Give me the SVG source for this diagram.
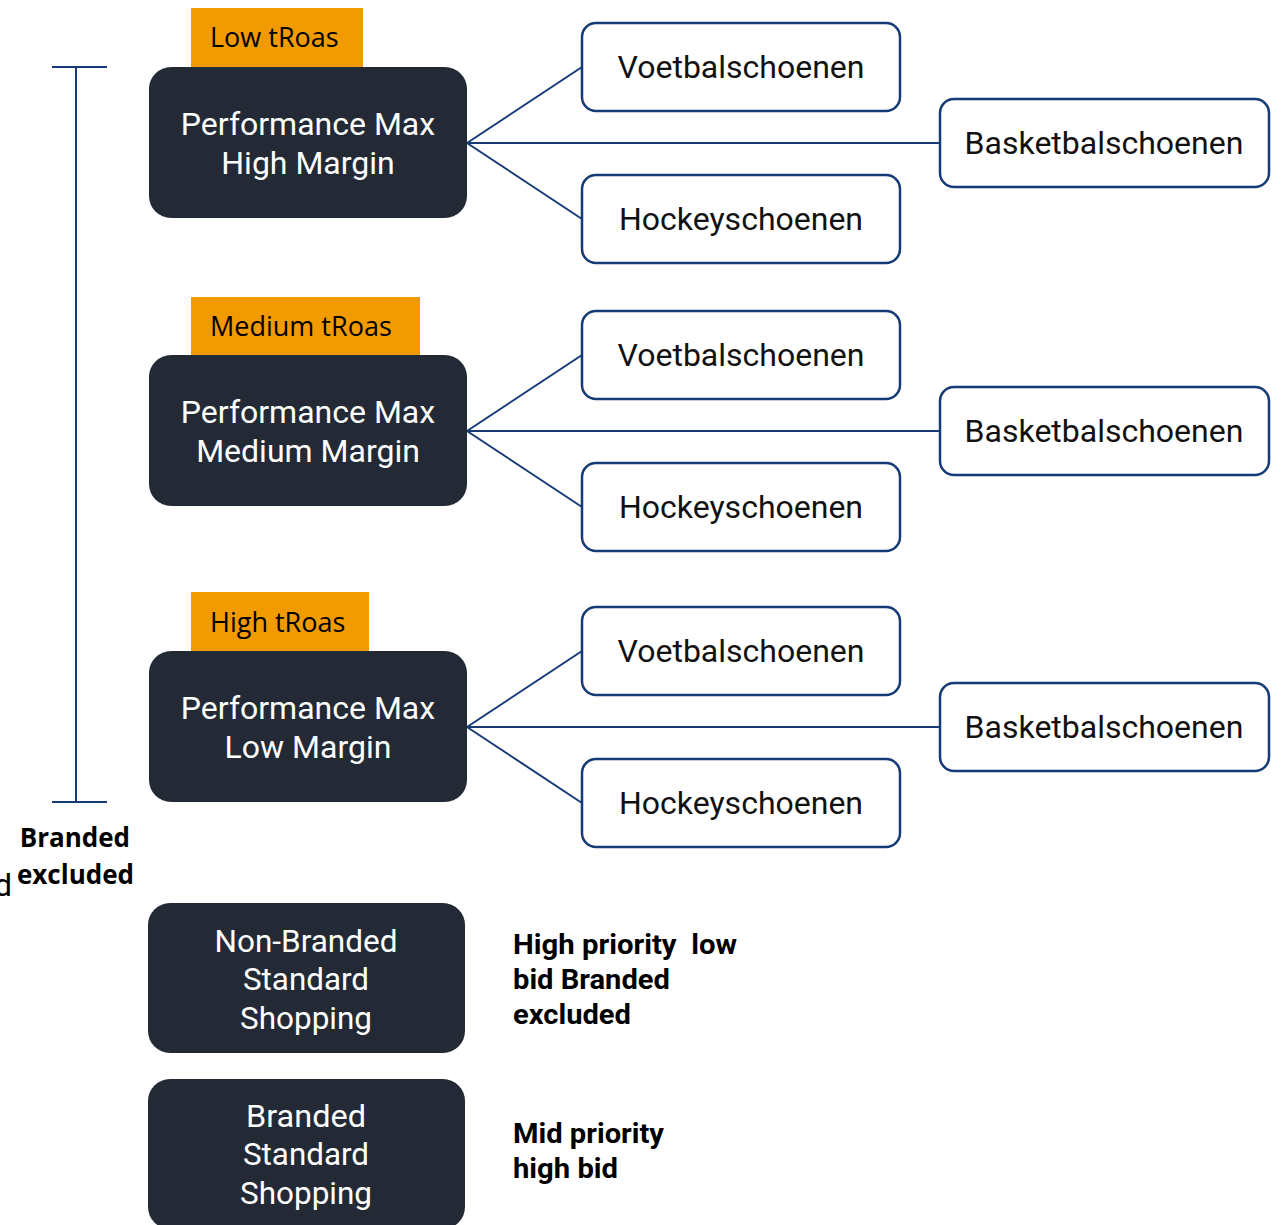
<svg xmlns="http://www.w3.org/2000/svg" width="1281" height="1225" viewBox="0 0 1281 1225">
<style>
.dark{fill:#232a35}
.tag{fill:#f29b00}
.leaf{fill:#fff;stroke:#153a75;stroke-width:2.5}
.wt{font-family:Roboto,"Liberation Sans",sans-serif;font-size:32px;fill:#fff;text-anchor:middle}
.bt{font-family:Roboto,"Liberation Sans",sans-serif;font-size:32px;fill:#111;text-anchor:middle}
.tt{font-family:"Open Sans","Liberation Sans",sans-serif;font-size:27px;fill:#000}
.bold{font-family:"Open Sans","Liberation Sans",sans-serif;font-size:26px;font-weight:bold;fill:#000}
.note{font-family:Roboto,"Liberation Sans",sans-serif;font-size:28px;font-weight:bold;fill:#000}
.conn line{stroke:#153a75;stroke-width:2}
</style>
<rect width="1281" height="1225" fill="#fff"/>
<g class="conn" id="connectors">
<line x1="467" y1="143" x2="582" y2="67"/>
<line x1="467" y1="143" x2="940" y2="143"/>
<line x1="467" y1="143" x2="582" y2="219"/>
<line x1="467" y1="431" x2="582" y2="355"/>
<line x1="467" y1="431" x2="940" y2="431"/>
<line x1="467" y1="431" x2="582" y2="507"/>
<line x1="467" y1="727" x2="582" y2="651"/>
<line x1="467" y1="727" x2="940" y2="727"/>
<line x1="467" y1="727" x2="582" y2="803"/>
<line x1="76" y1="67" x2="76" y2="803"/>
<line x1="52" y1="67" x2="107" y2="67"/>
<line x1="52" y1="802" x2="107" y2="802"/>
</g>
<g id="tag1"><rect class="tag" x="191" y="8" width="172" height="60"/><text class="tt" x="210" y="47">Low tRoas</text></g>
<g id="pm1"><rect class="dark" x="149" y="67" width="318" height="151" rx="22"/><text class="wt" x="308" y="135">Performance Max</text><text class="wt" x="308" y="174">High Margin</text></g>
<g id="v1"><rect class="leaf" x="582" y="23" width="318" height="88" rx="14"/><text class="bt" x="741" y="78">Voetbalschoenen</text></g>
<g id="b1"><rect class="leaf" x="940" y="99" width="329" height="88" rx="14"/><text class="bt" x="1104" y="154">Basketbalschoenen</text></g>
<g id="h1"><rect class="leaf" x="582" y="175" width="318" height="88" rx="14"/><text class="bt" x="741" y="230">Hockeyschoenen</text></g>

<g id="tag2"><rect class="tag" x="191" y="297" width="229" height="59"/><text class="tt" x="210" y="336">Medium tRoas</text></g>
<g id="pm2"><rect class="dark" x="149" y="355" width="318" height="151" rx="22"/><text class="wt" x="308" y="423">Performance Max</text><text class="wt" x="308" y="462">Medium Margin</text></g>
<g id="v2"><rect class="leaf" x="582" y="311" width="318" height="88" rx="14"/><text class="bt" x="741" y="366">Voetbalschoenen</text></g>
<g id="b2"><rect class="leaf" x="940" y="387" width="329" height="88" rx="14"/><text class="bt" x="1104" y="442">Basketbalschoenen</text></g>
<g id="h2"><rect class="leaf" x="582" y="463" width="318" height="88" rx="14"/><text class="bt" x="741" y="518">Hockeyschoenen</text></g>

<g id="tag3"><rect class="tag" x="191" y="592" width="178" height="59"/><text class="tt" x="210" y="632">High tRoas</text></g>
<g id="pm3"><rect class="dark" x="149" y="651" width="318" height="151" rx="22"/><text class="wt" x="308" y="719">Performance Max</text><text class="wt" x="308" y="758">Low Margin</text></g>
<g id="v3"><rect class="leaf" x="582" y="607" width="318" height="88" rx="14"/><text class="bt" x="741" y="662">Voetbalschoenen</text></g>
<g id="b3"><rect class="leaf" x="940" y="683" width="329" height="88" rx="14"/><text class="bt" x="1104" y="738">Basketbalschoenen</text></g>
<g id="h3"><rect class="leaf" x="582" y="759" width="318" height="88" rx="14"/><text class="bt" x="741" y="814">Hockeyschoenen</text></g>

<g id="branded-excluded">
<text class="bold" x="130" y="847" text-anchor="end">Branded</text>
<text class="bold" x="134" y="884" text-anchor="end">excluded</text>
<text font-family="Roboto,'Liberation Sans',sans-serif" font-size="32" fill="#000" x="-6" y="896">d</text>
</g>

<g id="nbss"><rect class="dark" x="148" y="903" width="317" height="150" rx="22"/>
<text class="wt" x="306" y="952" textLength="183" lengthAdjust="spacingAndGlyphs">Non-Branded</text>
<text class="wt" x="306" y="990" textLength="126" lengthAdjust="spacingAndGlyphs">Standard</text>
<text class="wt" x="306" y="1029" textLength="132" lengthAdjust="spacingAndGlyphs">Shopping</text></g>
<g id="bss"><rect class="dark" x="148" y="1079" width="317" height="150" rx="22"/>
<text class="wt" x="306" y="1127" textLength="120" lengthAdjust="spacingAndGlyphs">Branded</text>
<text class="wt" x="306" y="1165" textLength="126" lengthAdjust="spacingAndGlyphs">Standard</text>
<text class="wt" x="306" y="1204" textLength="132" lengthAdjust="spacingAndGlyphs">Shopping</text></g>

<g id="notes">
<text class="note" x="513" y="954" textLength="224" lengthAdjust="spacingAndGlyphs" xml:space="preserve">High priority  low</text>
<text class="note" x="513" y="989" textLength="157" lengthAdjust="spacingAndGlyphs">bid Branded</text>
<text class="note" x="513" y="1024" textLength="118" lengthAdjust="spacingAndGlyphs">excluded</text>
<text class="note" x="513" y="1143" textLength="151" lengthAdjust="spacingAndGlyphs">Mid priority</text>
<text class="note" x="513" y="1178" textLength="105" lengthAdjust="spacingAndGlyphs">high bid</text>
</g>
</svg>
